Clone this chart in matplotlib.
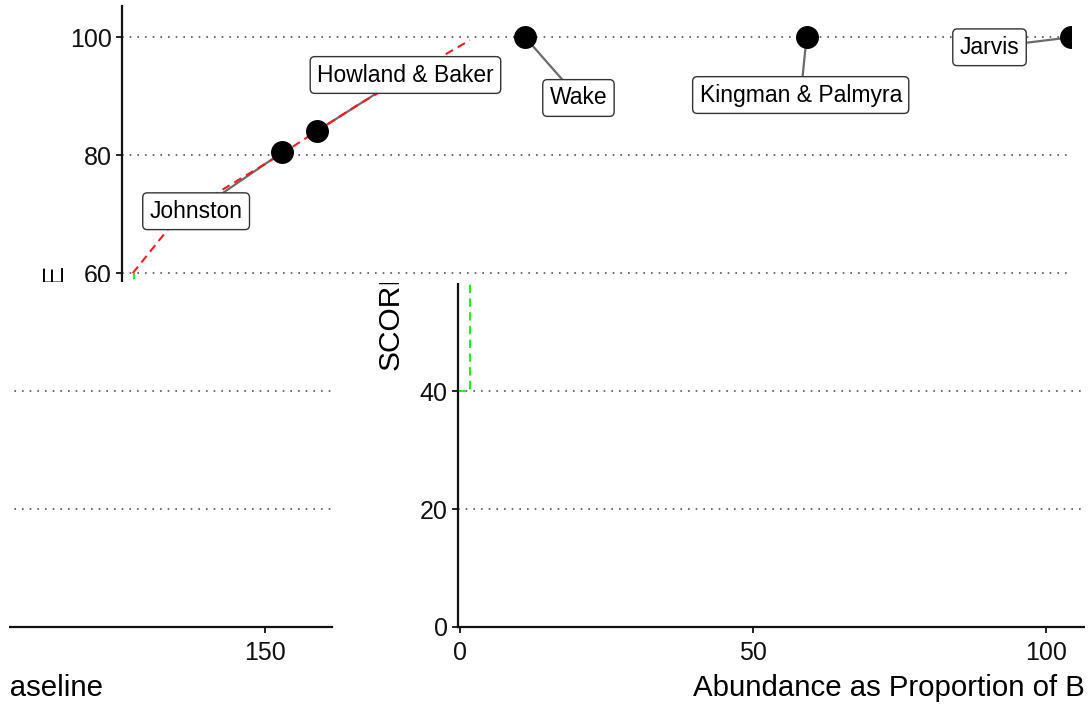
import matplotlib
matplotlib.use("Agg")
import matplotlib.pyplot as plt
from matplotlib.transforms import Bbox, TransformedBbox

plt.rcParams["font.family"] = ["Liberation Sans", "DejaVu Sans"]

W, H = 1091, 706

# sites (points)
sites = ["Johnston", "Howland & Baker", "Wake", "Kingman & Palmyra", "Jarvis"]
abundance = [27.0, 32.9, 68.4, 116.4, 161.5]
score = [80.5, 84.1, 100.0, 100.0, 100.0]
# where the repelled labels sit (data units)
label_x = [12.3, 48.0, 77.5, 115.4, 147.6]
label_y = [70.5, 93.6, 89.7, 90.2, 98.3]

# red dashed fit and green dashed threshold
fit_x = [1.5, 7.8, 15.2, 27.0, 32.9, 40.3, 59.0]
fit_y = [60.0, 67.8, 73.2, 80.3, 84.1, 88.8, 99.5]
thr_x = [-0.34, 1.7, 1.7]
thr_y = [40.0, 40.0, 60.0]

x_ticks = [0, 50, 100, 150]
y_ticks = [0, 20, 40, 60, 80, 100]
x_lim = (-0.34, 161.5)
y_lim = (0, 105.3)

PX_PER_X = 5.864  # 50 units = 293 px
fig = plt.figure(figsize=(W / 100, H / 100), dpi=100)
fig.patch.set_facecolor("white")


def px_box(x0, y0, x1, y1):
    return TransformedBbox(Bbox.from_extents(x0 / W, 1 - y1 / H, x1 / W, 1 - y0 / H), fig.transFigure)


def draw_panel(shift):
    left = 458 - shift
    right = left + (x_lim[1] - x_lim[0]) * PX_PER_X
    top, bottom = 6, 627
    ax = fig.add_axes([left / W, 1 - bottom / H, (right - left) / W, (bottom - top) / H])
    ax.set_facecolor("none")
    ax.set_xlim(*x_lim)
    ax.set_ylim(*y_lim)
    ax.set_xticks(x_ticks)
    ax.set_yticks(y_ticks)
    ax.set_axisbelow(True)
    ax.yaxis.grid(True, color="#555555", linestyle=(0, (1, 3.6)), linewidth=1.2)

    for s in ("top", "right"):
        ax.spines[s].set_visible(False)
    for s in ("left", "bottom"):
        ax.spines[s].set_linewidth(1.6)
        ax.spines[s].set_color("#111111")
    ax.tick_params(direction="out", length=4.5, width=1.3, labelsize=18, colors="#111111")
    ax.tick_params(axis="x", pad=5.5)
    ax.tick_params(axis="y", pad=3)

    # connector segments
    for lx, ly, px, py in zip(label_x, label_y, abundance, score):
        ax.plot([lx, px], [ly, py], color="#6b6b6b", linewidth=1.6, zorder=2)

    ax.plot(fit_x, fit_y, color="#ff1a1a", linestyle=(0, (4, 2.6)), linewidth=1.5, zorder=2.5)
    ax.plot(thr_x, thr_y, color="#22ee22", linestyle=(0, (4, 2.6)), linewidth=1.5, zorder=2.5)

    ax.plot(abundance, score, "o", color="black", markersize=15.5, zorder=3)

    for name, lx, ly in zip(sites, label_x, label_y):
        ax.text(lx, ly, name, fontsize=16.5, ha="center", va="center", zorder=4,
                bbox=dict(boxstyle="round,pad=0.3,rounding_size=0.2",
                          facecolor="white", edgecolor="#333333", linewidth=1.0))

    ax.set_xlabel("Abundance as Proportion of Baseline", fontsize=21.2, labelpad=6.5)
    ax.xaxis.label.set_x(0.5 + 3 / (right - left))
    ax.set_ylabel("SCORE", fontsize=21.5, labelpad=0.5)
    return ax, (left, top, right, bottom)


def clip_to(ax, rect, frame):
    box = px_box(*rect)
    inner = px_box(max(rect[0], frame[0]), max(rect[1], frame[1]),
                   min(rect[2], frame[2]), min(rect[3], frame[3]))
    # data lines also stay inside the axes frame
    for a in ax.lines:
        a.set_clip_box(inner)
        a.set_clip_on(True)
    arts = [ax.patch, *ax.spines.values(), *ax.texts, ax.xaxis.label, ax.yaxis.label]
    for axis in (ax.xaxis, ax.yaxis):
        for tick in axis.get_major_ticks():
            arts += [tick.tick1line, tick.tick2line, tick.label1, tick.label2]
            tick.gridline.set_clip_box(inner)
            tick.gridline.set_clip_on(True)
    for a in arts:
        a.set_clip_on(True)
        a.set_clip_box(box)


# the picture is three shifted pieces of the same chart
pieces = [
    (336, (0, 0, 1091, 282)),
    (0, (340, 283, 1085, 706)),
    (1075, (9, 283, 340, 706)),
]
for shift, rect in pieces:
    ax, frame = draw_panel(shift)
    clip_to(ax, rect, frame)

fig.savefig("out.png", dpi=100)
